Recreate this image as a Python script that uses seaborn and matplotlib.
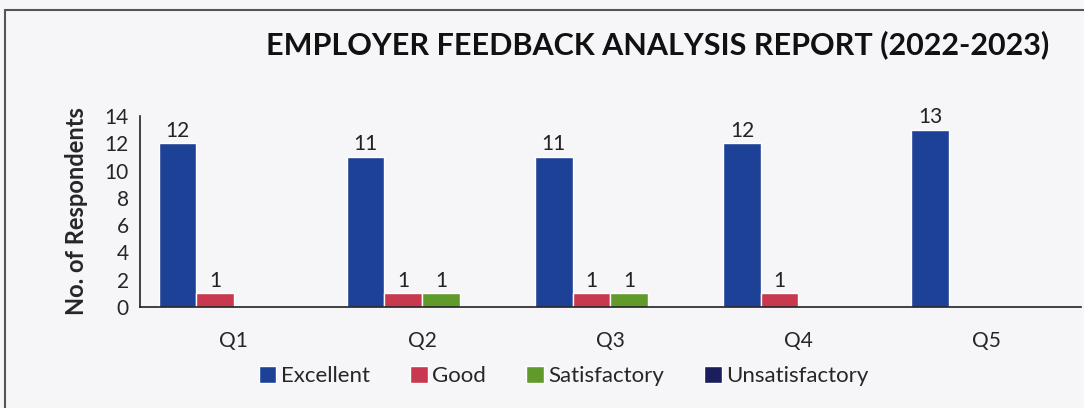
import matplotlib.pyplot as plt
import seaborn as sns
import pandas as pd
from matplotlib.lines import Line2D
from matplotlib.patches import Patch

# data
questions = ["Q1", "Q2", "Q3", "Q4", "Q5"]
ratings = ["Excellent", "Good", "Satisfactory", "Unsatisfactory"]
excellent = [12, 11, 11, 12, 13]
good = [1, 1, 1, 1, 0]
satisfactory = [0, 1, 1, 0, 0]
unsatisfactory = [0, 0, 0, 0, 0]
colors = ["#1d4196", "#c8384e", "#5f9a2a", "#1b1d5c"]

rows = []
for name, vals in zip(ratings, [excellent, good, satisfactory, unsatisfactory]):
    for q, v in zip(questions, vals):
        rows.append({"Question": q, "Rating": name, "Count": v})
df = pd.DataFrame(rows)

sns.set_style("white")
plt.rcParams["font.family"] = ["Lato", "DejaVu Sans"]

bg = "#f6f5f8"
fig = plt.figure(figsize=(10.84, 4.08), dpi=100, facecolor=bg)
ax = fig.add_axes([0.129, 0.2475, 0.868, 0.468])
ax.set_facecolor(bg)

sns.barplot(data=df, x="Question", y="Count", hue="Rating", hue_order=ratings,
            palette=colors, width=0.8, saturation=1, ax=ax, legend=False)

# value labels on non-zero bars
for cont in ax.containers:
    labels = [f"{int(b.get_height())}" if b.get_height() > 0 else "" for b in cont]
    ax.bar_label(cont, labels=labels, padding=2, fontsize=15, color="#222222")

ax.set_xlim(-0.5, 4.5)
ax.set_ylim(0, 14)
ax.set_yticks(range(0, 15, 2))
ax.set_xticks(range(5))
ax.set_xticks([i - 0.5 for i in range(6)], minor=True)
ax.tick_params(axis="x", which="major", length=0, labelsize=15, pad=17)
ax.tick_params(axis="x", which="minor", length=7, width=1.2, direction="out", color="#222222")
ax.tick_params(axis="y", length=6, width=1.2, direction="out", labelsize=15, color="#222222", pad=2)
ax.set_xlabel("")
ax.set_ylabel("No. of Respondents", fontsize=17, fontweight="bold", labelpad=12)
for s in ["top", "right"]:
    ax.spines[s].set_visible(False)
for s in ["left", "bottom"]:
    ax.spines[s].set_color("#222222")
    ax.spines[s].set_linewidth(1.2)

fig.text(0.607, 0.89, "EMPLOYER FEEDBACK ANALYSIS REPORT (2022-2023)",
         ha="center", va="center", fontsize=22, fontweight="bold", color="#111111")

handles = [Patch(facecolor=c, label=r) for c, r in zip(colors, ratings)]
fig.legend(handles=handles, loc="center", bbox_to_anchor=(0.52, 0.078), ncol=4,
           frameon=False, fontsize=16, handlelength=0.8, handleheight=0.8,
           handletextpad=0.2, columnspacing=1.8)

# page border lines (left and top)
fig.add_artist(Line2D([0.005, 0.005], [0, 0.975], transform=fig.transFigure, color="#555555", lw=1.5))
fig.add_artist(Line2D([0.005, 1.0], [0.975, 0.975], transform=fig.transFigure, color="#555555", lw=1.5))

fig.savefig("out.png", dpi=100, facecolor=bg)
